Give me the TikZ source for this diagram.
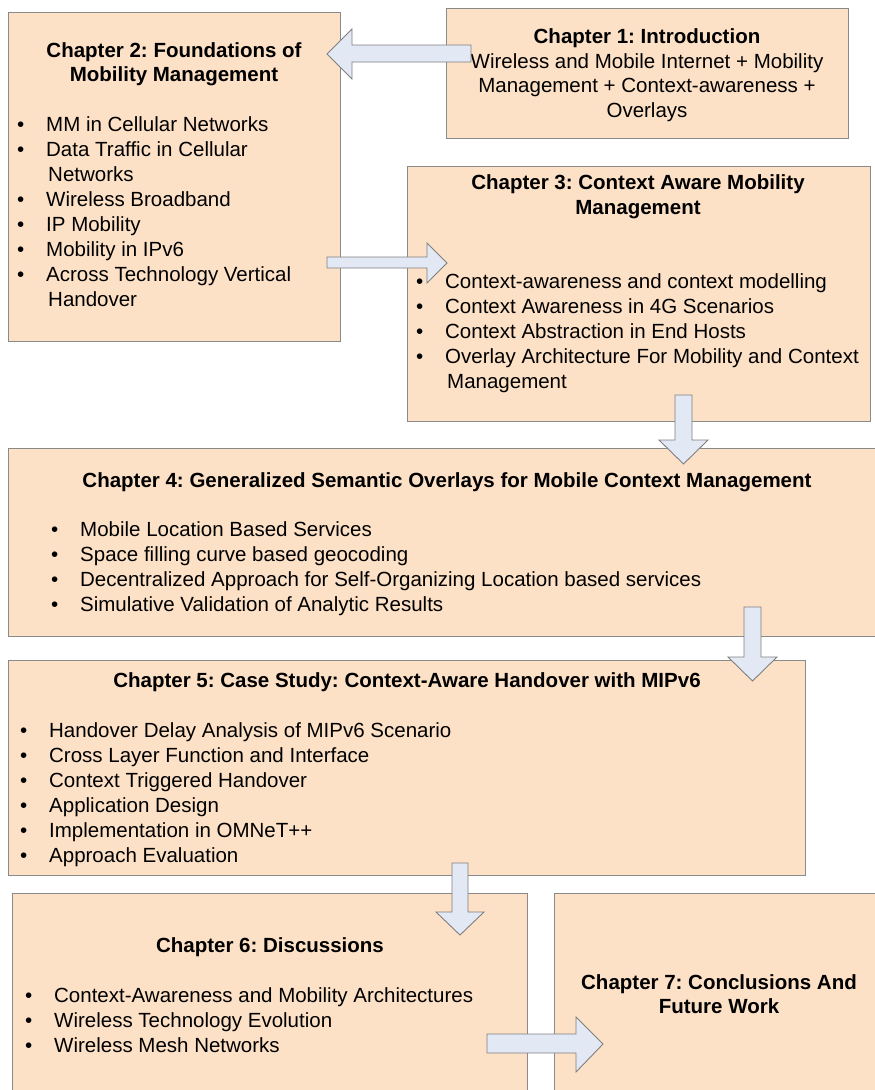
\documentclass[tikz,border=0pt]{standalone}
\usepackage{fontspec}
\setmainfont{Liberation Sans}
\frenchspacing
\definecolor{boxfill}{HTML}{FDE1C6}
\definecolor{boxline}{HTML}{8A8A8A}
\definecolor{arrowfill}{HTML}{E2E8F4}
\definecolor{arrowline}{HTML}{7F7F7F}
\newcommand{\bul}{\llap{\textbullet\hspace{22pt}}}
\begin{document}
\begin{tikzpicture}[x=1pt,y=-1pt,
  chapbox/.style={draw=boxline,fill=boxfill,line width=1.1pt,anchor=north west,inner sep=0pt},
  blockarrow/.style={draw=arrowline,fill=arrowfill,line width=0.9pt,line join=miter},
  txt/.style={inner sep=0pt,font=\fontsize{20.5}{25}\selectfont},
  ttl/.style={txt,font=\fontsize{20.5}{25}\selectfont\bfseries,anchor=base},
  item/.style={txt,anchor=base west}]
\useasboundingbox (0,0) rectangle (875,1090);

% chapter boxes
\node[chapbox,minimum width=332pt,minimum height=329pt] (ch2) at (8,12) {};
\node[chapbox,minimum width=402pt,minimum height=130pt] (ch1) at (446,8) {};
\node[chapbox,minimum width=463pt,minimum height=255pt] (ch3) at (407,166) {};
\node[chapbox,minimum width=880pt,minimum height=188pt] (ch4) at (8,448) {};
\node[chapbox,minimum width=797pt,minimum height=215pt] (ch5) at (8,660) {};
\node[chapbox,minimum width=515pt,minimum height=220pt] (ch6) at (12,893) {};
\node[chapbox,minimum width=330pt,minimum height=220pt] (ch7) at (554,893) {};

% Chapter 1
\node[ttl] (t1) at (647,43) {Chapter 1: Introduction};
\node[txt,anchor=base] (c1a) at (647,68) {Wireless and Mobile Internet + Mobility};
\node[txt,anchor=base] (c1b) at (647,92) {Management + Context-awareness +};
\node[txt,anchor=base] (c1c) at (647,117) {Overlays};

% Chapter 2
\node[ttl] (t2a) at (174,57) {Chapter 2: Foundations of};
\node[ttl] (t2b) at (174,81) {Mobility Management};
\node[item] (c2a) at (46,131) {\bul MM in Cellular Networks};
\node[item] (c2b) at (46,156) {\bul Data Traffic in Cellular};
\node[item] (c2c) at (48,181) {Networks};
\node[item] (c2d) at (46,206) {\bul Wireless Broadband};
\node[item] (c2e) at (46,231) {\bul IP Mobility};
\node[item] (c2f) at (46,256) {\bul Mobility in IPv6};
\node[item] (c2g) at (46,281) {\bul Across Technology Vertical};
\node[item] (c2h) at (48,306) {Handover};

% Chapter 3
\node[ttl] (t3a) at (638,189) {Chapter 3: Context Aware Mobility};
\node[ttl] (t3b) at (638,214) {Management};
\node[item] (c3a) at (445,288) {\bul Context-awareness and context modelling};
\node[item] (c3b) at (445,313) {\bul Context Awareness in 4G Scenarios};
\node[item] (c3c) at (445,338) {\bul Context Abstraction in End Hosts};
\node[item] (c3d) at (445,363) {\bul Overlay Architecture For Mobility and Context};
\node[item] (c3e) at (447,388) {Management};

% Chapter 4
\node[ttl] (t4) at (447,487) {Chapter 4: Generalized Semantic Overlays for Mobile Context Management};
\node[item] (c4a) at (80,536) {\bul Mobile Location Based Services};
\node[item] (c4b) at (80,561) {\bul Space filling curve based geocoding};
\node[item] (c4c) at (80,586) {\bul Decentralized Approach for Self-Organizing Location based services};
\node[item] (c4d) at (80,611) {\bul Simulative Validation of Analytic Results};

% Chapter 5
\node[ttl] (t5) at (407,687) {Chapter 5: Case Study: Context-Aware Handover with MIPv6};
\node[item] (c5a) at (49,737) {\bul Handover Delay Analysis of MIPv6 Scenario};
\node[item] (c5b) at (49,762) {\bul Cross Layer Function and Interface};
\node[item] (c5c) at (49,787) {\bul Context Triggered Handover};
\node[item] (c5d) at (49,812) {\bul Application Design};
\node[item] (c5e) at (49,837) {\bul Implementation in OMNeT++};
\node[item] (c5f) at (49,862) {\bul Approach Evaluation};

% Chapter 6
\node[ttl] (t6) at (270,952) {Chapter 6: Discussions};
\node[item] (c6a) at (54,1002) {\bul Context-Awareness and Mobility Architectures};
\node[item] (c6b) at (54,1027) {\bul Wireless Technology Evolution};
\node[item] (c6c) at (54,1052) {\bul Wireless Mesh Networks};

% Chapter 7
\node[ttl] (t7a) at (719,989) {Chapter 7: Conclusions And};
\node[ttl] (t7b) at (719,1013) {Future Work};

% block arrows between the chapters
% 1 -> 2
\draw[blockarrow] (471,45) -- (352,45) -- (352,29) -- (327,54) -- (352,79) -- (352,62) -- (471,62) -- cycle;
% 2 -> 3
\draw[blockarrow] (327,257) -- (427,257) -- (427,243) -- (447,263) -- (427,283) -- (427,268) -- (327,268) -- cycle;
% 3 -> 4
\draw[blockarrow] (675,395) -- (692,395) -- (692,440) -- (708,440) -- (683.5,464) -- (659,440) -- (675,440) -- cycle;
% 4 -> 5
\draw[blockarrow] (744,607) -- (761,607) -- (761,657) -- (777,657) -- (752.5,681) -- (728,657) -- (744,657) -- cycle;
% 5 -> 6
\draw[blockarrow] (452,863) -- (468,863) -- (468,912) -- (484,912) -- (460,935) -- (436,912) -- (452,912) -- cycle;
% 6 -> 7
\draw[blockarrow] (487,1034) -- (576,1034) -- (576,1017) -- (603,1044) -- (576,1072) -- (576,1053) -- (487,1053) -- cycle;
\end{tikzpicture}
\end{document}
